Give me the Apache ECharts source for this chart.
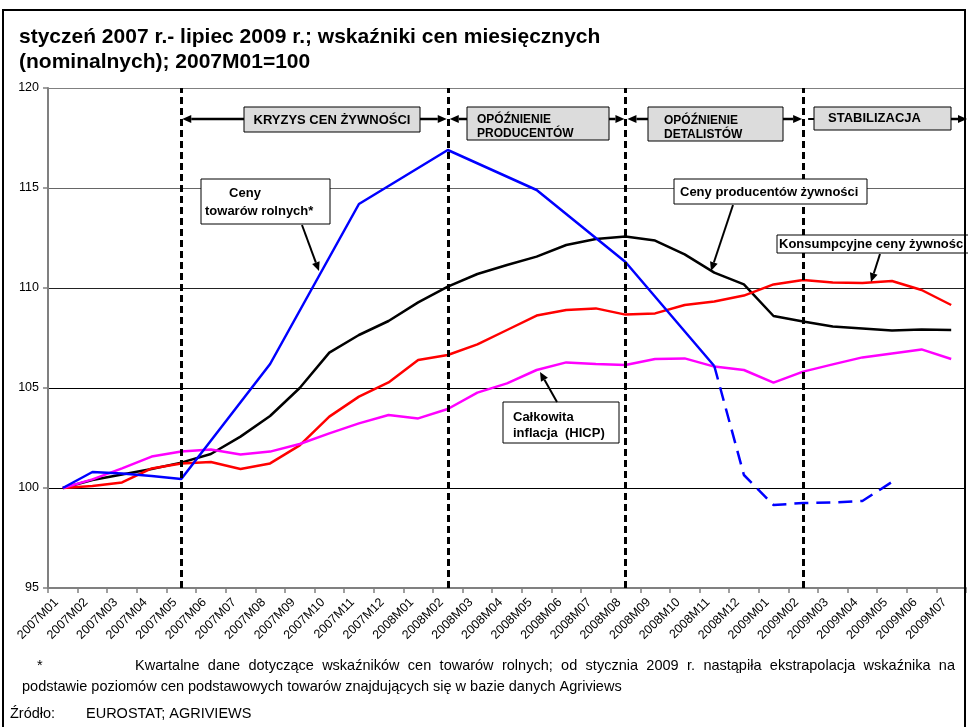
<!DOCTYPE html>
<html><head><meta charset="utf-8">
<script src="https://cdn.jsdelivr.net/npm/echarts@6/dist/echarts.min.js"></script>
<style>html,body{margin:0;padding:0;background:#fff}#c{width:968px;height:727px}</style>
</head><body><div id="c"></div>
<script>
const categories = ['2007M01','2007M02','2007M03','2007M04','2007M05','2007M06','2007M07','2007M08','2007M09','2007M10','2007M11','2007M12',
'2008M01','2008M02','2008M03','2008M04','2008M05','2008M06','2008M07','2008M08','2008M09','2008M10','2008M11','2008M12',
'2009M01','2009M02','2009M03','2009M04','2009M05','2009M06','2009M07'];
const agriSolid = [100,100.8,100.73,100.6,100.45,null,null,106.2,null,null,114.2,null,null,116.9,null,null,114.9,null,null,111.3,null,null,106.1,
null,null,null,null,null,null,null,null];
const agriDashed = [null,null,null,null,null,null,null,null,null,null,null,null,null,null,null,null,null,null,null,null,null,null,106.1,
100.65,99.15,99.25,99.28,99.35,100.3,null,null];
const producer = [100,100.4,100.68,100.95,101.27,101.7,102.57,103.6,105.0,106.77,107.65,108.35,109.28,110.07,110.7,111.15,111.57,112.15,112.45,112.57,112.37,111.68,110.77,110.18,108.6,108.32,108.07,107.98,107.87,107.92,107.9];
const consumer = [100,100.1,100.28,100.98,101.23,101.3,100.95,101.23,102.13,103.57,104.57,105.28,106.4,106.65,107.18,107.9,108.62,108.9,108.98,108.67,108.73,109.15,109.32,109.62,110.18,110.4,110.28,110.25,110.35,109.9,109.15];
const hicp = [100,100.43,100.98,101.57,101.82,101.93,101.68,101.82,102.2,102.73,103.23,103.65,103.48,103.95,104.77,105.23,105.9,106.28,106.2,106.15,106.45,106.48,106.07,105.9,105.27,105.82,106.18,106.53,106.73,106.93,106.45];
const phaseLines = ['2007M05','2008M02','2008M08','2009M02'];
const yMin = 95, yMax = 120, yStep = 5;

const FF = '"Liberation Sans", Arial, sans-serif';
const chart = echarts.init(document.getElementById('c'));
const lineSeries = (name, data, color, dashed) => ({
  name, type:'line', data, connectNulls:true, symbol:'none', smooth:false,
  lineStyle:{color, width:2.5, type: dashed ? [14,8] : 'solid'}, z:3
});
chart.setOption({
  animation:false,
  title:{text:'styczeń 2007 r.- lipiec 2009 r.; wskaźniki cen miesięcznych\n(nominalnych); 2007M01=100',
    left:14, top:20, textStyle:{fontFamily:FF, fontSize:21, fontWeight:'bold', color:'#000', lineHeight:25}},
  grid:{left:48, top:88, right:2, bottom:139},
  xAxis:{type:'category', data:categories, boundaryGap:true,
    axisLine:{lineStyle:{color:'#808080', width:2}},
    axisTick:{show:true, interval:0, length:5, lineStyle:{color:'#808080', width:1.5}},
    axisLabel:{rotate:45, interval:0, fontSize:12.5, fontFamily:FF, color:'#000', margin:6, padding:[0,9,0,0]}},
  yAxis:{type:'value', min:yMin, max:yMax, interval:yStep,
    axisLine:{show:true, lineStyle:{color:'#808080', width:2}},
    axisTick:{show:true, length:5, lineStyle:{color:'#808080', width:1.5}},
    axisLabel:{fontSize:12.5, fontFamily:FF, color:'#000', margin:9},
    splitLine:{lineStyle:{color:['#808080','#000','#000','#222','#666','#808080'], width:1}}},
  series:[
    Object.assign(lineSeries('phase', [], '#000', false), {
      markLine:{silent:true, symbol:'none', label:{show:false},
        lineStyle:{color:'#000', width:3, type:[7,4]},
        data: phaseLines.map(c => ({xAxis:c}))}}),
    lineSeries('Ceny producentów żywności', producer, '#000000'),
    lineSeries('Konsumpcyjne ceny żywności', consumer, '#ff0000'),
    lineSeries('Całkowita inflacja (HICP)', hicp, '#ff00ff'),
    lineSeries('Ceny towarów rolnych', agriSolid, '#0000ff'),
    lineSeries('Ceny towarów rolnych (ekstrapolacja)', agriDashed, '#0000ff', true)
  ]
});

function txt(x, y, s, font, align){
  return {type:'text', x, y, z:110, style:{text:s, font, fill:'#000', textAlign:align||'left', textVerticalAlign:'middle', align:align||'left', verticalAlign:'middle'}};
}
function rect(x, y, w, h, fill){
  return {type:'rect', z:105, shape:{x, y, width:w, height:h}, style:{fill:fill||'#fff', stroke:'#000', lineWidth:1}};
}
function arrow(x1, y1, x2, y2, head, w){
  const els = [];
  const ang = Math.atan2(y2-y1, x2-x1), L = 9, W = 4;
  let ex = x2, ey = y2;
  if (head){ ex = x2 - L*Math.cos(ang); ey = y2 - L*Math.sin(ang);
    const px = -Math.sin(ang)*W, py = Math.cos(ang)*W;
    els.push({type:'polygon', z:106, shape:{points:[[x2,y2],[ex+px,ey+py],[ex-px,ey-py]]}, style:{fill:'#000'}});
  }
  els.unshift({type:'line', z:106, shape:{x1, y1, x2:ex, y2:ey}, style:{stroke:'#000', lineWidth:w||2}});
  return els;
}
const mctx = document.createElement('canvas').getContext('2d');
function justified(x1, x2, y, s, font){
  mctx.font = font;
  const words = s.split(' ');
  const ws = words.map(w => mctx.measureText(w).width);
  const total = ws.reduce((a,b)=>a+b,0);
  const gap = (x2 - x1 - total) / (words.length - 1);
  let x = x1; const out = [];
  words.forEach((w,i) => { out.push(txt(x, y, w, font)); x += ws[i] + gap; });
  return out;
}
const px = c => chart.convertToPixel({xAxisIndex:0}, c);
const d = phaseLines.map(px);
const AY = 119;
const B12 = 'bold 12px ' + FF, B13 = 'bold 13px ' + FF, R14 = '14.5px ' + FF;
let g = [];
// frame
g.push({type:'rect', z:120, shape:{x:3, y:10, width:962, height:740}, style:{fill:null, stroke:'#000', lineWidth:2}});
// phase arrows and boxes
g = g.concat(arrow(244, AY, d[0]+1, AY, true, 2.5), arrow(420, AY, d[1]-1, AY, true, 2.5));
g.push(rect(244, 107, 176, 25, '#dcdcdc'), txt(332, 120, 'KRYZYS CEN ŻYWNOŚCI', B13, 'center'));
g = g.concat(arrow(467, AY, d[1]+2, AY, true, 2.5), arrow(609, AY, d[2]-1, AY, true, 2.5));
g.push(rect(467, 107, 142, 33, '#dcdcdc'), txt(477, 120, 'OPÓŹNIENIE', B12), txt(477, 134, 'PRODUCENTÓW', B12));
g = g.concat(arrow(648, AY, d[2]+2, AY, true, 2.5), arrow(783, AY, d[3]-1, AY, true, 2.5));
g.push(rect(648, 107, 135, 34, '#dcdcdc'), txt(664, 121, 'OPÓŹNIENIE', B12), txt(664, 135, 'DETALISTÓW', B12));
g = g.concat(arrow(814, AY, d[3]+5, AY, false, 2), arrow(951, AY, 967, AY, true, 2.5));
g.push(rect(814, 107, 137, 23, '#dcdcdc'), txt(828, 118, 'STABILIZACJA', B13));
// series labels
g.push(rect(201, 179, 129, 45), txt(245, 193, 'Ceny', B13, 'center'), txt(205, 211, 'towarów rolnych*', B13));
g = g.concat(arrow(302, 225, 319, 271, true, 2));
g.push(rect(674, 179, 193, 25), txt(680, 192, 'Ceny producentów żywności', B13));
g = g.concat(arrow(733, 205, 711, 271, true, 2));
g.push(rect(777, 235, 200, 18), txt(779, 244, 'Konsumpcyjne ceny żywności', B13));
g = g.concat(arrow(880, 254, 871, 282, true, 2));
g.push(rect(503, 402, 116, 41), txt(513, 417, 'Całkowita', B13), txt(513, 433, 'inflacja  (HICP)', B13));
g = g.concat(arrow(557, 402, 540, 372, true, 2));
// footer
g.push(txt(37, 666, '*', R14));
g = g.concat(justified(135, 955, 666, 'Kwartalne dane dotyczące wskaźników cen towarów rolnych; od stycznia 2009 r. nastąpiła ekstrapolacja wskaźnika na', R14));
g.push(txt(22, 687, 'podstawie poziomów cen podstawowych towarów znajdujących się w bazie danych Agriviews', R14));
g.push(txt(10, 714, 'Źródło:', R14), txt(86, 714, 'EUROSTAT; AGRIVIEWS', R14));
chart.setOption({graphic:{elements:g}});
</script></body></html>
